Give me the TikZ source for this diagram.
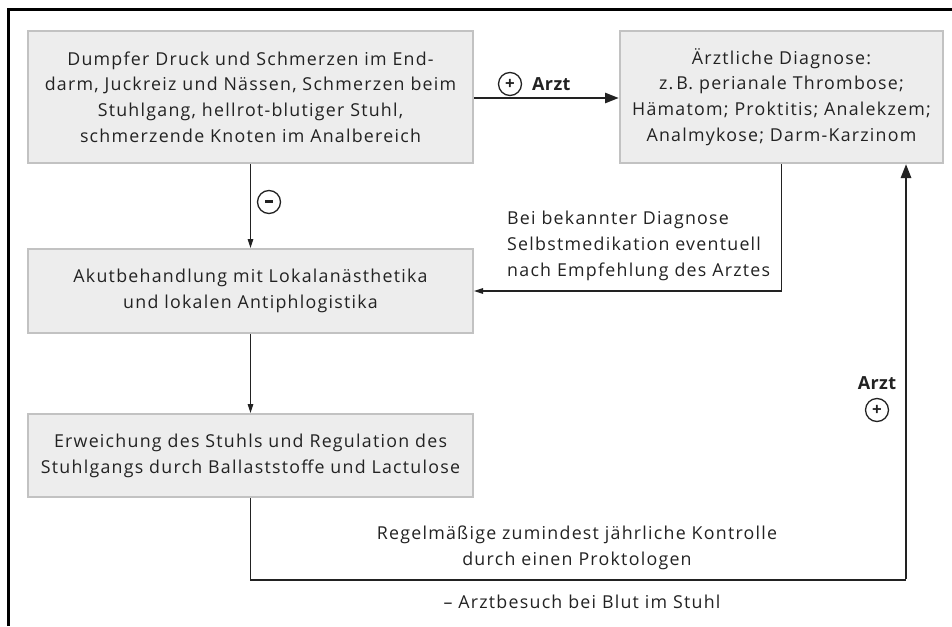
\documentclass[tikz,border=0pt]{standalone}
\usepackage{fontspec}
\setmainfont{Open Sans}[LetterSpace=7,BoldFeatures={LetterSpace=2}]
\usetikzlibrary{arrows.meta}
\definecolor{boxfill}{HTML}{EDEDED}
\definecolor{boxline}{HTML}{C2C2C2}
\definecolor{ink}{HTML}{222222}
\begin{document}
\begin{tikzpicture}[x=1pt,y=-1pt,
  every node/.style={text=ink},
  box/.style={draw=boxline,line width=2pt,fill=boxfill,align=center,inner sep=0pt,
    font=\fontsize{17.8}{25.8}\selectfont},
  lbl/.style={font=\fontsize{17.8}{25.8}\selectfont,inner sep=0pt},
  boldlbl/.style={font=\fontsize{18}{20}\selectfont\bfseries,inner sep=0pt},
  sym/.style={circle,draw=ink,line width=1.3pt,minimum size=23pt,inner sep=0pt,font=\fontsize{17}{17}\selectfont\bfseries},
  thin/.style={draw=ink,line width=1.3pt,-{Triangle[length=9pt,width=5.5pt]}},
  thick/.style={draw=ink,line width=2.8pt,-{Triangle[length=14pt,width=10pt]}},
  plainline/.style={draw=ink,line width=1.3pt}
]
\useasboundingbox (0,0) rectangle (952,626);
% frame
\draw[line width=3pt,black] (8,626) -- (8,10) -- (952,10);

\node[box,minimum width=445pt,minimum height=132pt] (b1) at (250.5,97)
  {Dumpfer Druck und Schmerzen im End-\\darm, Juckreiz und Nässen, Schmerzen beim\\Stuhlgang, hellrot-blutiger Stuhl,\\schmerzende Knoten im Analbereich};
\node[box,minimum width=323pt,minimum height=132pt] (b2) at (781.5,97)
  {Ärztliche Diagnose:\\z.\hspace{3pt}B. perianale Thrombose;\\Hämatom; Proktitis; Analekzem;\\Analmykose; Darm-Karzinom};
\node[box,minimum width=445pt,minimum height=84pt] (b3) at (250.5,291)
  {Akutbehandlung mit Lokalanästhetika\\und lokalen Antiphlogistika};
\node[box,minimum width=445pt,minimum height=83pt] (b4) at (250.5,455.5)
  {Erweichung des Stuhls und Regulation des\\Stuhlgangs durch Ballaststoffe und Lactulose};

% connectors
\draw[thick] (b1.east |- 0,98) -- (b2.west |- 0,98);
\draw[thin] (b1.south) -- (b3.north);
\draw[thin] (b3.south) -- (b4.north);
\draw[thin] (b2.south) |- (b3.east);
\coordinate (c1) at (906,580);
\draw[plainline] (b4.south) |- (c1);
\draw[thick] ([yshift=1.4pt]c1) -- (c1 |- b2.south);

% labels
\node[sym] (p1) at (510,84) {+};
\node[boldlbl,anchor=west] (a1) at (532,84) {Arzt};
\node[sym] (m1) at (269,202) {\raisebox{0.5pt}{\rule{8pt}{2.6pt}}};
\node[boldlbl] (a2) at (877,383) {Arzt};
\node[sym] (p2) at (877,410) {+};
\node[lbl,align=left,anchor=west] (t1) at (507,246)
  {Bei bekannter Diagnose\\Selbstmedikation eventuell\\nach Empfehlung des Arztes};
\node[lbl,align=center] (t2) at (577,548)
  {Regelmäßige zumindest jährliche Kontrolle\\durch einen Proktologen};
\node[lbl] (t3) at (582,602) {– Arztbesuch bei Blut im Stuhl};
\end{tikzpicture}
\end{document}
